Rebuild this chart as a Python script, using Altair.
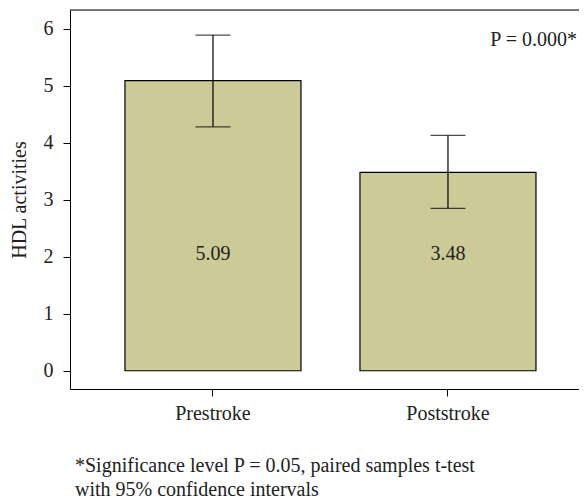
import altair as alt
import pandas as pd

groups = ["Prestroke", "Poststroke"]
means = [5.09, 3.48]
lower = [4.28, 2.85]
upper = [5.89, 4.13]
mean_labels = ["5.09", "3.48"]
p_text = "P = 0.000*"
footnote = ["*Significance level P = 0.05, paired samples t-test",
            "with 95% confidence intervals"]

df = pd.DataFrame({"group": groups, "mean": means, "lower": lower,
                   "upper": upper, "label": mean_labels})

FONT = "Liberation Serif"
FS = 20
W, H = 509, 379

x = alt.X("group:N", sort=groups, title=None,
          scale=alt.Scale(paddingInner=0.251, paddingOuter=0.2085, align=0.561),
          axis=alt.Axis(labelAngle=0, labelFont=FONT, labelFontSize=FS,
                        labelColor="#222", tickSize=7, tickColor="#000",
                        domainColor="#000", labelPadding=7, grid=False))
yscale = alt.Scale(domain=[-0.32, 6.33], nice=False, zero=False)

base = alt.Chart(df)

bars = base.mark_bar(fill="#cccb98", stroke="#000", strokeWidth=1.2).encode(
    x=x,
    y=alt.Y("mean:Q", scale=yscale, title="HDL activities",
            axis=alt.Axis(values=[0, 1, 2, 3, 4, 5, 6], format="d", labelFont=FONT,
                          labelFontSize=FS, labelColor="#222", tickSize=7,
                          tickColor="#000", domainColor="#000", labelPadding=10,
                          grid=False, titleFont=FONT, titleFontSize=FS,
                          titleFontWeight="normal", titleColor="#222",
                          titlePadding=14)),
    y2=alt.datum(0),
)

err = base.mark_rule(color="#000", strokeWidth=1.2).encode(
    x=alt.X("group:N", sort=groups), y=alt.Y("lower:Q", scale=yscale), y2="upper:Q")

cap_lo = base.mark_tick(color="#000", size=35, thickness=1.2).encode(
    x=alt.X("group:N", sort=groups), y=alt.Y("lower:Q", scale=yscale))
cap_hi = base.mark_tick(color="#000", size=35, thickness=1.2).encode(
    x=alt.X("group:N", sort=groups), y=alt.Y("upper:Q", scale=yscale))

labels = base.mark_text(font=FONT, fontSize=FS, color="#222", baseline="middle").encode(
    x=alt.X("group:N", sort=groups), y=alt.datum(2.05), text="label:N")

ptext = alt.Chart(pd.DataFrame({"t": [p_text]})).mark_text(
    font=FONT, fontSize=FS, color="#222", align="right", baseline="middle").encode(
    x=alt.value(W - 2), y=alt.value(30), text="t:N")

top_line = alt.Chart(pd.DataFrame({"a": [0]})).mark_rule(color="#000", strokeWidth=1.2).encode(
    x=alt.value(0), x2=alt.value(W), y=alt.value(0))

foot = alt.Chart(pd.DataFrame({"a": [0]})).mark_text(
    font=FONT, fontSize=FS, color="#222", align="left", baseline="middle",
    lineHeight=24).encode(
    x=alt.value(5), y=alt.value(456), text=alt.value(footnote))

chart = alt.layer(bars, err, cap_lo, cap_hi, labels, ptext, top_line, foot).properties(
    width=W, height=H,
    autosize=alt.AutoSizeParams(type="none"),
    padding={"left": 62, "top": 2, "right": 0, "bottom": 112},
).configure_view(stroke=None).configure(background="white")

chart.save("out.html", embed_options={"renderer": "svg", "actions": False})
